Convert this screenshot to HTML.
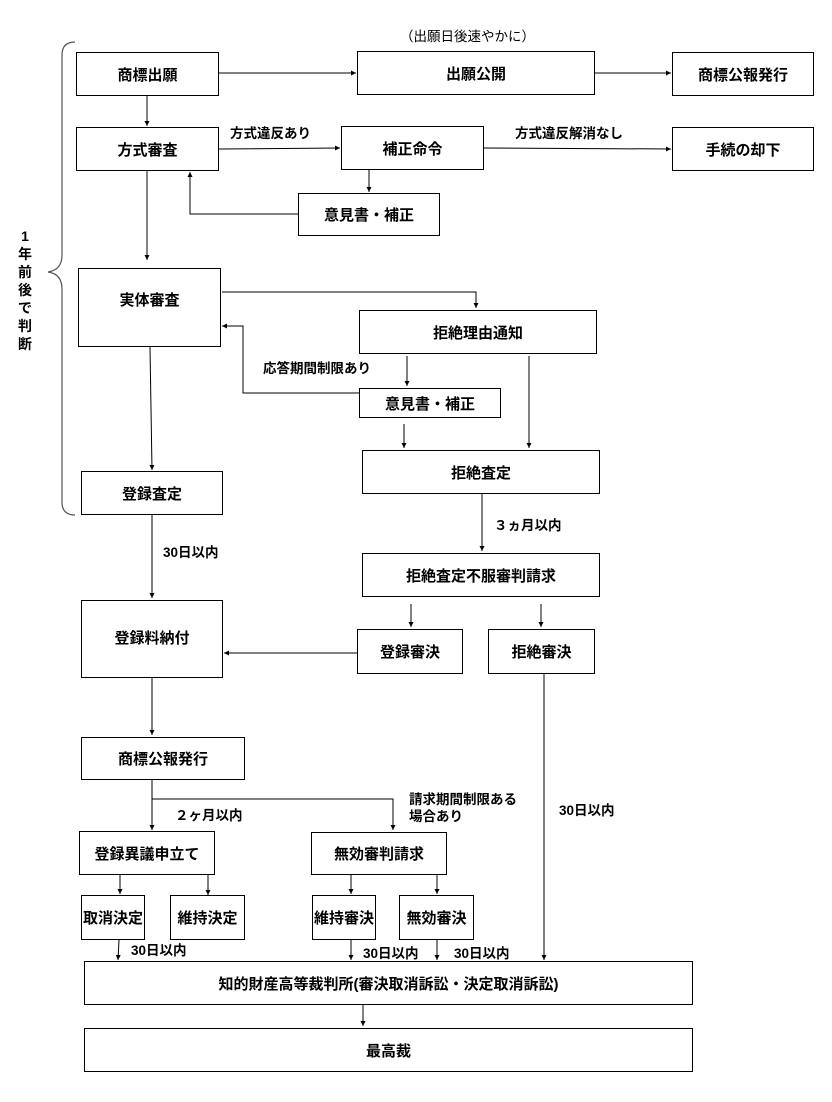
<!DOCTYPE html>
<html><head><meta charset="utf-8"><style>
body{margin:0;width:832px;height:1102px;background:#fff;position:relative;font-family:"Liberation Sans","Noto Sans CJK JP",sans-serif;font-weight:bold;color:#000;overflow:hidden}
.b{position:absolute;border:1.3px solid #000;box-sizing:border-box;display:flex;align-items:center;justify-content:center;font-size:15px;background:#fff;white-space:nowrap}
.t{position:absolute;font-size:13.5px;white-space:nowrap;line-height:1.25}
svg{position:absolute;left:0;top:0}
</style></head><body>
<svg width="832" height="1102">
<defs><marker id="a" markerWidth="6" markerHeight="6" refX="5" refY="3" orient="auto"><path d="M0,0.5 L5,3 L0,5.5z" fill="#000"/></marker></defs>
<g stroke="#000" stroke-width="1" fill="none" marker-end="url(#a)">
<line x1="219" y1="73" x2="356" y2="73"/>
<line x1="595" y1="73" x2="671" y2="73"/>
<line x1="147" y1="96" x2="147" y2="126"/>
<line x1="219" y1="149" x2="340" y2="148"/>
<line x1="484" y1="148" x2="671" y2="149"/>
<line x1="369" y1="170" x2="369" y2="192"/>
<polyline points="298,214 190,214 190,172"/>
<line x1="147" y1="171" x2="147" y2="260"/>
<polyline points="222,292 476,292 476,308"/>
<polyline points="359,393 243,393 243,326 222,326"/>
<line x1="407" y1="356" x2="407" y2="386"/>
<line x1="529" y1="356" x2="529" y2="448"/>
<line x1="404" y1="424" x2="404" y2="448"/>
<line x1="150" y1="347" x2="152" y2="470"/>
<line x1="482" y1="494" x2="482" y2="551"/>
<line x1="152" y1="515" x2="152" y2="598"/>
<line x1="411" y1="604" x2="411" y2="627"/>
<line x1="541" y1="604" x2="541" y2="627"/>
<line x1="357" y1="653" x2="224" y2="653"/>
<line x1="544" y1="674" x2="544" y2="960"/>
<line x1="152" y1="678" x2="152" y2="735"/>
<line x1="152" y1="780" x2="152" y2="830"/>
<polyline points="152,799 393,799 393,830"/>
<line x1="120" y1="875" x2="120" y2="894"/>
<line x1="208" y1="875" x2="208" y2="895"/>
<line x1="351" y1="875" x2="351" y2="894"/>
<line x1="437" y1="875" x2="437" y2="894"/>
<line x1="119" y1="940" x2="118" y2="960"/>
<line x1="351" y1="940" x2="351" y2="960"/>
<line x1="437" y1="940" x2="437" y2="960"/>
<line x1="363" y1="1005" x2="363" y2="1026"/>
</g>
<path d="M75,42 Q62,42 62,55 L62,255 Q62,270 48,272 Q62,274 62,289 L62,502 Q62,515 75,515" stroke="#555" stroke-width="1.2" fill="none"/>
</svg>
<div class="b" style="left:76px;top:52px;width:143px;height:44px">商標出願</div>
<div class="b" style="left:357px;top:51px;width:238px;height:44px">出願公開</div>
<div class="b" style="left:672px;top:52px;width:142px;height:44px">商標公報発行</div>
<div class="b" style="left:76px;top:127px;width:143px;height:44px">方式審査</div>
<div class="b" style="left:341px;top:126px;width:143px;height:44px">補正命令</div>
<div class="b" style="left:672px;top:127px;width:142px;height:44px">手続の却下</div>
<div class="b" style="left:298px;top:193px;width:142px;height:43px">意見書・補正</div>
<div class="b" style="left:78px;top:268px;width:143px;height:79px;align-items:flex-start;padding-top:20px">実体審査</div>
<div class="b" style="left:359px;top:310px;width:238px;height:44px">拒絶理由通知</div>
<div class="b" style="left:359px;top:388px;width:142px;height:30px">意見書・補正</div>
<div class="b" style="left:362px;top:450px;width:238px;height:44px">拒絶査定</div>
<div class="b" style="left:81px;top:471px;width:142px;height:44px">登録査定</div>
<div class="b" style="left:362px;top:553px;width:238px;height:44px">拒絶査定不服審判請求</div>
<div class="b" style="left:81px;top:600px;width:142px;height:78px;align-items:flex-start;padding-top:26px">登録料納付</div>
<div class="b" style="left:357px;top:629px;width:106px;height:45px">登録審決</div>
<div class="b" style="left:488px;top:629px;width:107px;height:45px">拒絶審決</div>
<div class="b" style="left:81px;top:737px;width:164px;height:43px">商標公報発行</div>
<div class="b" style="left:79px;top:831px;width:136px;height:44px">登録異議申立て</div>
<div class="b" style="left:311px;top:832px;width:136px;height:43px">無効審判請求</div>
<div class="b" style="left:81px;top:895px;width:64px;height:45px">取消決定</div>
<div class="b" style="left:170px;top:895px;width:75px;height:45px">維持決定</div>
<div class="b" style="left:312px;top:895px;width:64px;height:45px">維持審決</div>
<div class="b" style="left:399px;top:895px;width:75px;height:45px">無効審決</div>
<div class="b" style="left:84px;top:961px;width:609px;height:44px">知的財産高等裁判所(審決取消訴訟・決定取消訴訟)</div>
<div class="b" style="left:84px;top:1028px;width:609px;height:44px">最高裁</div>
<div class="t" style="left:400px;top:29px;font-weight:normal">（出願日後速やかに）</div>
<div class="t" style="left:230px;top:126px">方式違反あり</div>
<div class="t" style="left:515px;top:126px">方式違反解消なし</div>
<div class="t" style="left:263px;top:361px">応答期間制限あり</div>
<div class="t" style="left:494px;top:518px">３ヵ月以内</div>
<div class="t" style="left:163px;top:545px">30日以内</div>
<div class="t" style="left:175px;top:808px">２ヶ月以内</div>
<div class="t" style="left:409px;top:792px">請求期間制限ある<br>場合あり</div>
<div class="t" style="left:559px;top:803px">30日以内</div>
<div class="t" style="left:131px;top:943px">30日以内</div>
<div class="t" style="left:363px;top:946px">30日以内</div>
<div class="t" style="left:454px;top:946px">30日以内</div>
<div class="t" style="left:17px;top:227px;width:16px;white-space:normal;font-size:14px;line-height:18px;text-align:center">1年前後で判断</div>
</body></html>
